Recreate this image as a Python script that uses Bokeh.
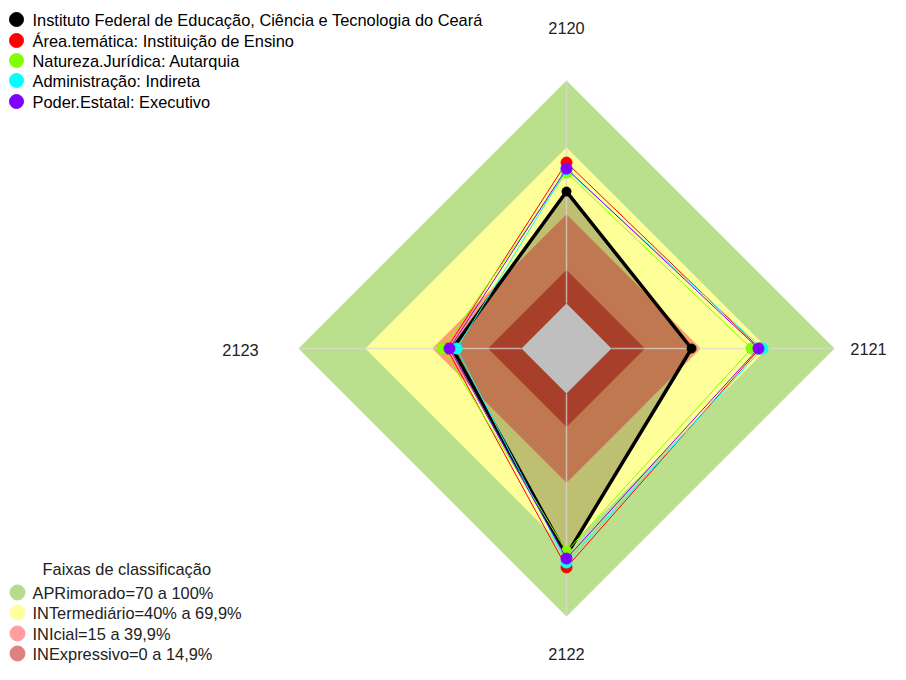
from bokeh.plotting import figure
from bokeh.models import Range1d
from bokeh.core.properties import value
from bokeh.embed import file_html
from bokeh.resources import INLINE

# ---- data ----
axis_labels = ["2120", "2121", "2122", "2123"]
series_names = [
    "Instituto Federal de Educação, Ciência e Tecnologia do Ceará",
    "Área.temática: Instituição de Ensino",
    "Natureza.Jurídica: Autarquia",
    "Administração: Indireta",
    "Poder.Estatal: Executivo",
]
series_colors = ["#000000", "#FF0000", "#80FF00", "#00FFFF", "#8000FF"]
ifce = [50.2, 35.9, 72.5, 31.0]
area = [63.2, 66.5, 78.0, 33.5]
natureza = [58.7, 62.8, 70.9, 35.4]
administracao = [60.0, 67.7, 75.8, 29.1]
poder = [60.5, 65.9, 74.0, 32.3]
series_values = [ifce, area, natureza, administracao, poder]

band_labels = ["APRimorado=70 a 100%", "INTermediário=40% a 69,9%",
               "INIcial=15 a 39,9%", "INExpressivo=0 a 14,9%"]
band_edges = [100, 70, 40, 15, 0]
band_colors = ["#BAE08E", "#FFFF99", "#FFA06B", "#DF5538", "#FFFFFF"]
band_legend_colors = ["#B4DC8C", "#FFFF9E", "#FF9E9E", "#DC8282"]
legend_title = "Faixas de classificação"

# ---- geometry (figure coords = screenshot pixels) ----
W, H = 890, 664
CX, CY = 566, 348
R0, R1 = 45, 268
dirs = [(0, -1), (1, 0), (0, 1), (-1, 0)]
FONT = value("Liberation Sans")
FS = "16.4px"


def rad(pct):
    return R0 + (R1 - R0) * pct / 100.0


def poly(vals):
    xs = [CX + dx * rad(v) for v, (dx, dy) in zip(vals, dirs)]
    ys = [CY + dy * rad(v) for v, (dx, dy) in zip(vals, dirs)]
    return xs, ys


p = figure(width=W, height=H, x_range=Range1d(0, W), y_range=Range1d(H, 0),
           output_backend="svg", toolbar_location=None,
           x_axis_location=None, y_axis_location=None, min_border=0)
p.grid.visible = False
p.outline_line_color = None
p.background_fill_color = "white"

# bands
for edge, col in zip(band_edges, band_colors):
    xs, ys = poly([edge] * 4)
    p.patch(xs, ys, fill_color=col, line_color=None)

# filled polygon of the first series
xs, ys = poly(ifce)
p.patch(xs, ys, fill_color="black", fill_alpha=0.25, line_color=None)

# axis spokes
for dx, dy in dirs:
    p.line([CX + dx * R0, CX + dx * R1], [CY + dy * R0, CY + dy * R1],
           line_color="#D8D8D8", line_alpha=0.7, line_width=1.5)

# series
for i, (vals, col) in enumerate(zip(series_values, series_colors)):
    xs, ys = poly(vals)
    p.line(xs + xs[:1], ys + ys[:1], line_color=col, line_width=3.5 if i == 0 else 1)
    p.scatter(xs, ys, size=9 if i == 0 else 11, fill_color=col, line_color=col)

# axis labels
lab_x = [566, 868, 566, 240]
lab_y = [27, 348, 653, 349]
p.text(lab_x, lab_y, text=axis_labels, text_font=FONT, text_font_size=FS,
       text_align="center", text_baseline="middle", text_color="#222222")

# top legend
ly = [19, 40, 60, 80, 101]
p.scatter([16] * 5, ly, size=14, fill_color=series_colors, line_color=series_colors)
p.text([32] * 5, ly, text=series_names, text_font=FONT, text_font_size=FS,
       text_align="left", text_baseline="middle", text_color="black")

# bottom legend
p.text([42], [568], text=[legend_title], text_font=FONT, text_font_size=FS,
       text_align="left", text_baseline="middle", text_color="#222222")
by = [592, 612, 633, 653]
p.scatter([17] * 4, by, size=15, fill_color=band_legend_colors, line_color=band_legend_colors)
p.text([32] * 4, by, text=band_labels, text_font=FONT, text_font_size=FS,
       text_align="left", text_baseline="middle", text_color="#222222")

open("out.html", "w").write(file_html(p, INLINE))
